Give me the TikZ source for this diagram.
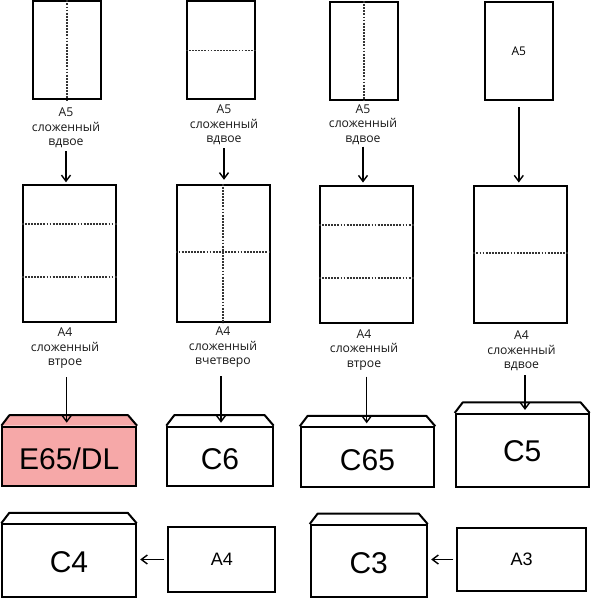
\documentclass[tikz,border=0pt]{standalone}
\usepackage{fontspec}
\setmainfont{Open Sans}
\newfontfamily\envfont{Liberation Sans}
\usepackage{xcolor}
\usetikzlibrary{arrows.meta,positioning,calc}

\definecolor{envpink}{RGB}{246,168,168}

\begin{document}
\begin{tikzpicture}[x=1pt,y=-1pt]

    % --- STYLES ---
    \tikzset{
        sheet/.style={draw=black, line width=2pt, minimum width=68pt, minimum height=98pt, inner sep=0pt, font=\fontsize{12}{14}\selectfont},
        bigsheet/.style={sheet, minimum width=93pt, minimum height=137.5pt},
        fold/.style={draw=black!80, line width=1.6pt, dash pattern=on 1.8pt off 1.3pt},
        caption/.style={align=center, inner sep=0pt, text=black!90, font=\fontsize{12.2}{14.5}\selectfont},
        feed/.style={-{Straight Barb[length=6pt,width=9pt]}, line width=1.4pt},
        envelope/.style={draw=black, line width=2pt, fill=white, inner sep=0pt, text depth=0pt, text height=27pt, font=\envfont\fontsize{30}{30}\selectfont},
        envline/.style={draw=black, line width=2pt, line join=round},
        flatsheet/.style={draw=black, line width=2pt, inner sep=0pt, font=\envfont\fontsize{18}{18}\selectfont}
    }

    \useasboundingbox (0,0) rectangle (590,600);

    % --- OBEN: A5 ---
    \node[sheet] (a5a) at (66.8,50.3) {};
    \node[sheet] (a5b) at (220.8,50.3) {};
    \node[sheet] (a5c) at (363.8,51) {};
    \node[sheet] (a5d) at (518.8,51) {A5};

    \draw[fold] (a5a.north) -- (a5a.south);
    \draw[fold] (a5b.west) -- (a5b.east);
    \draw[fold] (a5c.north) -- (a5c.south);

    \node[caption] (t5a) at (66,128) {A5\\сложенный\\вдвое};
    \node[caption] (t5b) at (224,125) {A5\\сложенный\\вдвое};
    \node[caption] (t5c) at (363,124.5) {A5\\сложенный\\вдвое};

    % --- MITTE: A4 ---
    \node[bigsheet] (a4a) at (69.2,253.5) {};
    \node[bigsheet] (a4b) at (223,253.5) {};
    \node[bigsheet] (a4c) at (366.3,254.3) {};
    \node[bigsheet] (a4d) at (520.8,254.3) {};

    \draw[fold] ($(a4a.north west)!0.29!(a4a.south west)$) -- ($(a4a.north east)!0.29!(a4a.south east)$);
    \draw[fold] ($(a4a.north west)!0.67!(a4a.south west)$) -- ($(a4a.north east)!0.67!(a4a.south east)$);
    \draw[fold] (a4b.north) -- (a4b.south);
    \draw[fold] ($(a4b.north west)!0.49!(a4b.south west)$) -- ($(a4b.north east)!0.49!(a4b.south east)$);
    \draw[fold] ($(a4c.north west)!0.29!(a4c.south west)$) -- ($(a4c.north east)!0.29!(a4c.south east)$);
    \draw[fold] ($(a4c.north west)!0.67!(a4c.south west)$) -- ($(a4c.north east)!0.67!(a4c.south east)$);
    \draw[fold] ($(a4d.north west)!0.49!(a4d.south west)$) -- ($(a4d.north east)!0.49!(a4d.south east)$);

    \node[caption] (t4a) at (65,348.5) {A4\\сложенный\\втрое};
    \node[caption] (t4b) at (223,347.5) {A4\\сложенный\\вчетверо};
    \node[caption] (t4c) at (364,350) {A4\\сложенный\\втрое};
    \node[caption] (t4d) at (521.5,351) {A4\\сложенный\\вдвое};

    % --- KONVERTE ---
    \node[envelope, fill=envpink, minimum width=133.7pt, minimum height=59pt] (e65) at (69.2,456.2) {E65/DL};
    \node[envelope, minimum width=105.4pt, minimum height=59pt] (c6) at (220,456.2) {C6};
    \node[envelope, minimum width=133.6pt, minimum height=59.4pt] (c65) at (367.5,457) {C65};
    \node[envelope, text height=22pt, minimum width=133pt, minimum height=72.7pt] (c5) at (522.2,450.3) {C5};
    \node[envelope, text height=24pt, minimum width=133.4pt, minimum height=72.4pt] (c4) at (69,560.5) {C4};
    \node[envelope, text height=24pt, minimum width=116pt, minimum height=72.3pt] (c3) at (368.7,561.2) {C3};

    % Klappen
    \draw[envline, fill=envpink] (e65.north west) -- ++(8,-10.5) -- ($(e65.north east)+(-9,-10.5)$) -- (e65.north east);
    \foreach \env in {c6,c65,c5,c4,c3}
        \draw[envline] (\env.north west) -- ++(8,-10.5) -- ($(\env.north east)+(-9,-10.5)$) -- (\env.north east);

    \node[flatsheet, minimum width=107pt, minimum height=64.3pt] (a4f) at (221.8,559.5) {A4};
    \node[flatsheet, minimum width=128.7pt, minimum height=63.6pt] (a3f) at (521.7,559.5) {A3};

    % --- PFEILE ---
    \draw[feed, shorten <=3pt, shorten >=1.5pt] (t5a.south) -- (t5a.south |- a4a.north);
    \draw[feed, shorten <=3pt, shorten >=4pt] (t5b.south) -- (t5b.south |- a4b.north);
    \draw[feed, shorten <=2pt, shorten >=2pt] (t5c.south) -- (t5c.south |- a4c.north);
    \draw[feed, shorten <=6pt, shorten >=2pt] (a5d.south) -- (a5d.south |- a4d.north);

    \draw[feed, shorten <=8pt, shorten >=3pt] (t4a.south) ++(1.7,0) coordinate (s1) -- (s1 |- e65.north);
    \draw[feed, shorten <=8pt, shorten >=3pt] (t4b.south) ++(-2,0) coordinate (s2) -- (s2 |- c6.north);
    \draw[feed, shorten <=6pt, shorten >=3pt] (t4c.south) ++(2.7,0) coordinate (s3) -- (s3 |- c65.north);
    \draw[feed, shorten <=4pt, shorten >=3pt] (t4d.south) ++(3.5,0) coordinate (s4) -- (s4 |- c5.north);

    \draw[feed, shorten <=3pt, shorten >=3.5pt] (a4f.west) -- (a4f.west -| c4.east);
    \draw[feed, shorten <=3pt, shorten >=3.5pt] (a3f.west) -- (a3f.west -| c3.east);

\end{tikzpicture}
\end{document}
